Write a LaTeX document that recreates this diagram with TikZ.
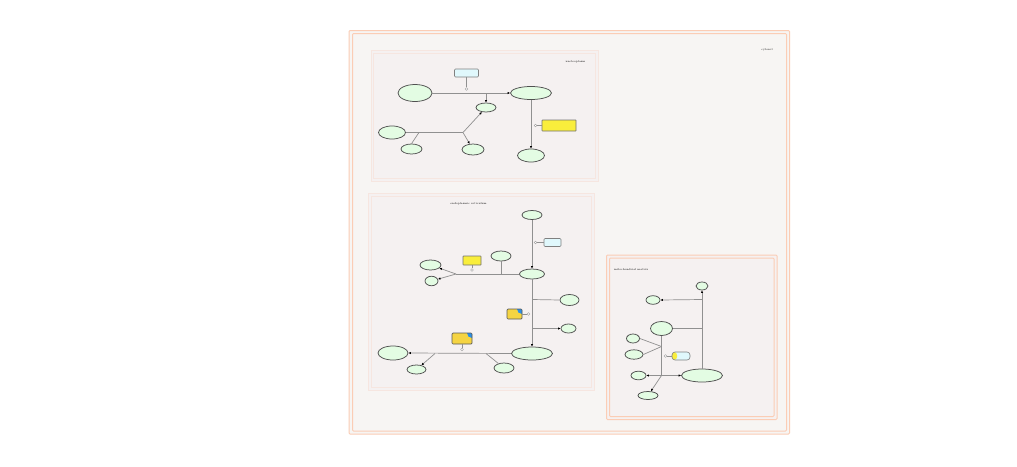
\documentclass[tikz,border=0pt]{standalone}
\usetikzlibrary{shapes.geometric,arrows.meta}
\definecolor{entfill}{HTML}{E3FCE3}
\definecolor{entline}{HTML}{505050}
\definecolor{cyanfill}{HTML}{E0F8FC}
\definecolor{yelfill}{HTML}{F9EE3C}
\definecolor{clonefill}{HTML}{F5D442}
\definecolor{cloneblue}{HTML}{2C8FE6}
\definecolor{cytfill}{HTML}{F7F5F3}
\definecolor{compfill}{HTML}{F5F1F1}
\definecolor{orangeline}{HTML}{FBCDB5}
\definecolor{faintline}{HTML}{F6E6E0}
\definecolor{connline}{HTML}{909090}
\begin{document}
\begin{tikzpicture}[x=1pt,y=-1pt,
  ent/.style={ellipse,draw=entline,fill=entfill,line width=0.75pt,inner sep=0pt},
  boxc/.style={rectangle,rounded corners=1pt,draw=black!50,fill=cyanfill,line width=0.6pt,inner sep=0pt},
  boxy/.style={rectangle,rounded corners=0.5pt,draw=black!55,fill=yelfill,line width=0.7pt,inner sep=0pt},
  clonebox/.style={rectangle,rounded corners=1pt,draw=black!65,fill=clonefill,line width=0.7pt,inner sep=0pt,
    path picture={\fill[cloneblue] (path picture bounding box.north east) circle (5pt);}},
  port/.style={circle,draw=black!40,fill=white,line width=0.45pt,minimum size=2.8pt,inner sep=0pt},
  ln/.style={draw=connline,line width=0.7pt},
  arr/.style={ln,-{Latex[length=2.6pt,width=2.4pt,color=black]}},
  lbl/.style={font=\fontsize{2.7}{3}\selectfont,inner sep=0pt,text=black}
]
\useasboundingbox (0,0) rectangle (1017,466);
\fill[white] (0,0) rectangle (1017,466);

% cytosol
\draw[orangeline,line width=1pt,fill=cytfill,rounded corners=1pt] (349,30.5) rectangle (789.5,434);
\draw[orangeline,line width=1pt,rounded corners=1pt] (352.5,33.5) rectangle (786.5,431);
\node[lbl] (tcyt) at (767,50) {cytosol};

% compartment 1
\draw[faintline,line width=0.8pt,fill=compfill] (371,50) rectangle (598,181);
\draw[faintline,line width=0.6pt] (373.5,53) rectangle (595.5,178);
\node[lbl] (tnuc) at (575.5,62) {nucleoplasm};

% compartment 2
\draw[faintline,line width=0.8pt,fill=compfill] (368.5,193) rectangle (594,390);
\draw[faintline,line width=0.6pt] (371.5,196) rectangle (591.5,387.5);
\node[lbl] (ter) at (468.5,204) {endoplasmic reticulum};

% compartment 3
\draw[orangeline,line width=1pt,fill=compfill,rounded corners=1pt] (606.5,255) rectangle (777,419.5);
\draw[orangeline,line width=1pt,rounded corners=1pt] (609.5,258) rectangle (774,416.5);
\node[lbl] (tmit) at (631,270) {mitochondrial matrix};

% ---------- compartment 1 nodes ----------
\node[ent,minimum width=34pt,minimum height=17pt] (A) at (415,93) {};
\node[ent,minimum width=41pt,minimum height=13pt] (B) at (531,93) {};
\node[ent,minimum width=20pt,minimum height=9pt] (C) at (486,107.5) {};
\node[ent,minimum width=27pt,minimum height=13pt] (D) at (392,132.5) {};
\node[ent,minimum width=21pt,minimum height=10pt] (E) at (411.5,149) {};
\node[ent,minimum width=22pt,minimum height=11pt] (F) at (473,149.5) {};
\node[ent,minimum width=27pt,minimum height=13pt] (G) at (531,155.5) {};
\node[boxc,minimum width=24pt,minimum height=8pt] (bx1) at (466.5,73) {};
\node[port] (p1) at (466.5,89) {};
\node[boxy,minimum width=34pt,minimum height=11pt] (y1) at (559,125.5) {};
\node[port] (p2) at (535.5,125.5) {};
\coordinate (j1) at (486,93);
\coordinate (j2) at (463,132.5);
\coordinate (j3) at (419,132.5);

\draw[arr] (A.east) -- (B.west);
\draw[arr] (j1) -- (C.north);
\draw[ln] (bx1.south) -- (p1);
\draw[ln] (D.east) -- (j2);
\draw[ln] (j3) -- (E.north);
\draw[arr] (j2) -- (C);
\draw[arr] (j2) -- (F);
\draw[arr] (B.south) -- (G.north);
\draw[ln] (y1.west) -- (p2);

% ---------- compartment 2 nodes ----------
\node[ent,minimum width=20pt,minimum height=9pt] (H) at (532,215) {};
\node[boxc,minimum width=17pt,minimum height=8pt] (bx2) at (552.5,242.5) {};
\node[port] (p3) at (535.5,242.5) {};
\node[ent,minimum width=25pt,minimum height=10pt] (I) at (532,274) {};
\node[ent,minimum width=20pt,minimum height=10pt] (J) at (501,256) {};
\node[boxy,minimum width=18pt,minimum height=9pt] (y2) at (472,260.5) {};
\node[port] (p4) at (472,270) {};
\node[ent,minimum width=21pt,minimum height=10pt] (K) at (430.5,265) {};
\node[ent,minimum width=13pt,minimum height=9.5pt] (L) at (431.5,281) {};
\node[ent,minimum width=19pt,minimum height=11pt] (N) at (569.5,300) {};
\node[ent,minimum width=15pt,minimum height=9pt] (O) at (568.5,328.5) {};
\node[clonebox,minimum width=15pt,minimum height=10pt] (c1) at (514.5,314) {};
\node[port] (p5) at (528.5,314) {};
\node[ent,minimum width=41pt,minimum height=13pt] (M) at (532,353.5) {};
\node[ent,minimum width=30pt,minimum height=14pt] (P) at (393,353) {};
\node[ent,minimum width=19pt,minimum height=9pt] (Q) at (416.5,369.5) {};
\node[ent,minimum width=20pt,minimum height=10pt] (R) at (504,368) {};
\node[clonebox,minimum width=20pt,minimum height=11pt] (c2) at (462,338.5) {};
\node[port] (p6) at (462,349.5) {};
\coordinate (j4) at (456,274);
\coordinate (j5) at (501,274);
\coordinate (j6) at (532,299.5);
\coordinate (j7) at (532,328.5);
\coordinate (j8) at (435,353.5);
\coordinate (j9) at (486,353.5);

\draw[arr] (H.south) -- (I.north);
\draw[ln] (p3) -- (bx2.west);
\draw[ln] (I.west) -- (j4);
\draw[ln] (j5) -- (J.south);
\draw[arr] (j4) -- (K);
\draw[arr] (j4) -- (L);
\draw[ln] (y2.south) -- (p4);
\draw[arr] (I.south) -- (M.north);
\draw[ln] (j6) -- (N.west);
\draw[arr] (j7) -- (O.west);
\draw[ln] (c1.east) -- (p5);
\draw[arr] (M.west) -- (P.east);
\draw[arr] (j8) -- (Q);
\draw[ln] (j9) -- (R);
\draw[ln] (c2.south) -- (p6);

% ---------- compartment 3 nodes ----------
\node[ent,minimum width=12pt,minimum height=8pt] (S) at (702,286) {};
\node[ent,minimum width=14pt,minimum height=8.6pt] (T) at (653,300) {};
\node[ent,minimum width=22pt,minimum height=14pt] (V) at (661.5,328.5) {};
\node[ent,minimum width=13pt,minimum height=9pt] (W) at (633,338.5) {};
\node[ent,minimum width=18pt,minimum height=9.4pt] (X) at (634,354.5) {};
\node[rectangle,rounded corners=3pt,draw=black!50,fill=cyanfill,line width=0.6pt,inner sep=0pt,
  minimum width=18pt,minimum height=8pt,
  path picture={\fill[yelfill] (path picture bounding box.south west) rectangle ([xshift=5pt]path picture bounding box.north west);}] (bx3) at (681,356) {};
\node[port] (p7) at (665.5,356) {};
\node[ent,minimum width=15pt,minimum height=8.6pt] (Yn) at (638.5,375.5) {};
\node[ent,minimum width=41pt,minimum height=13pt] (U) at (702,375.5) {};
\node[ent,minimum width=20pt,minimum height=8pt] (Z) at (648,395.5) {};
\coordinate (j10) at (702,299.5);
\coordinate (j11) at (702,328.5);
\coordinate (j12) at (661.5,375.5);
\coordinate (j13) at (661.5,346.5);

\draw[arr] (U.north) -- (S.south);
\draw[arr] (j10) -- (T.east);
\draw[ln] (V.east) -- (j11);
\draw[ln] (V.south) -- (j12);
\draw[ln] (W.east) -- (j13);
\draw[ln] (X.east) -- (j13);
\draw[ln] (p7) -- (bx3.west);
\draw[arr] (j12) -- (Yn.east);
\draw[arr] (j12) -- (U.west);
\draw[arr] (j12) -- (Z);
\end{tikzpicture}
\end{document}
